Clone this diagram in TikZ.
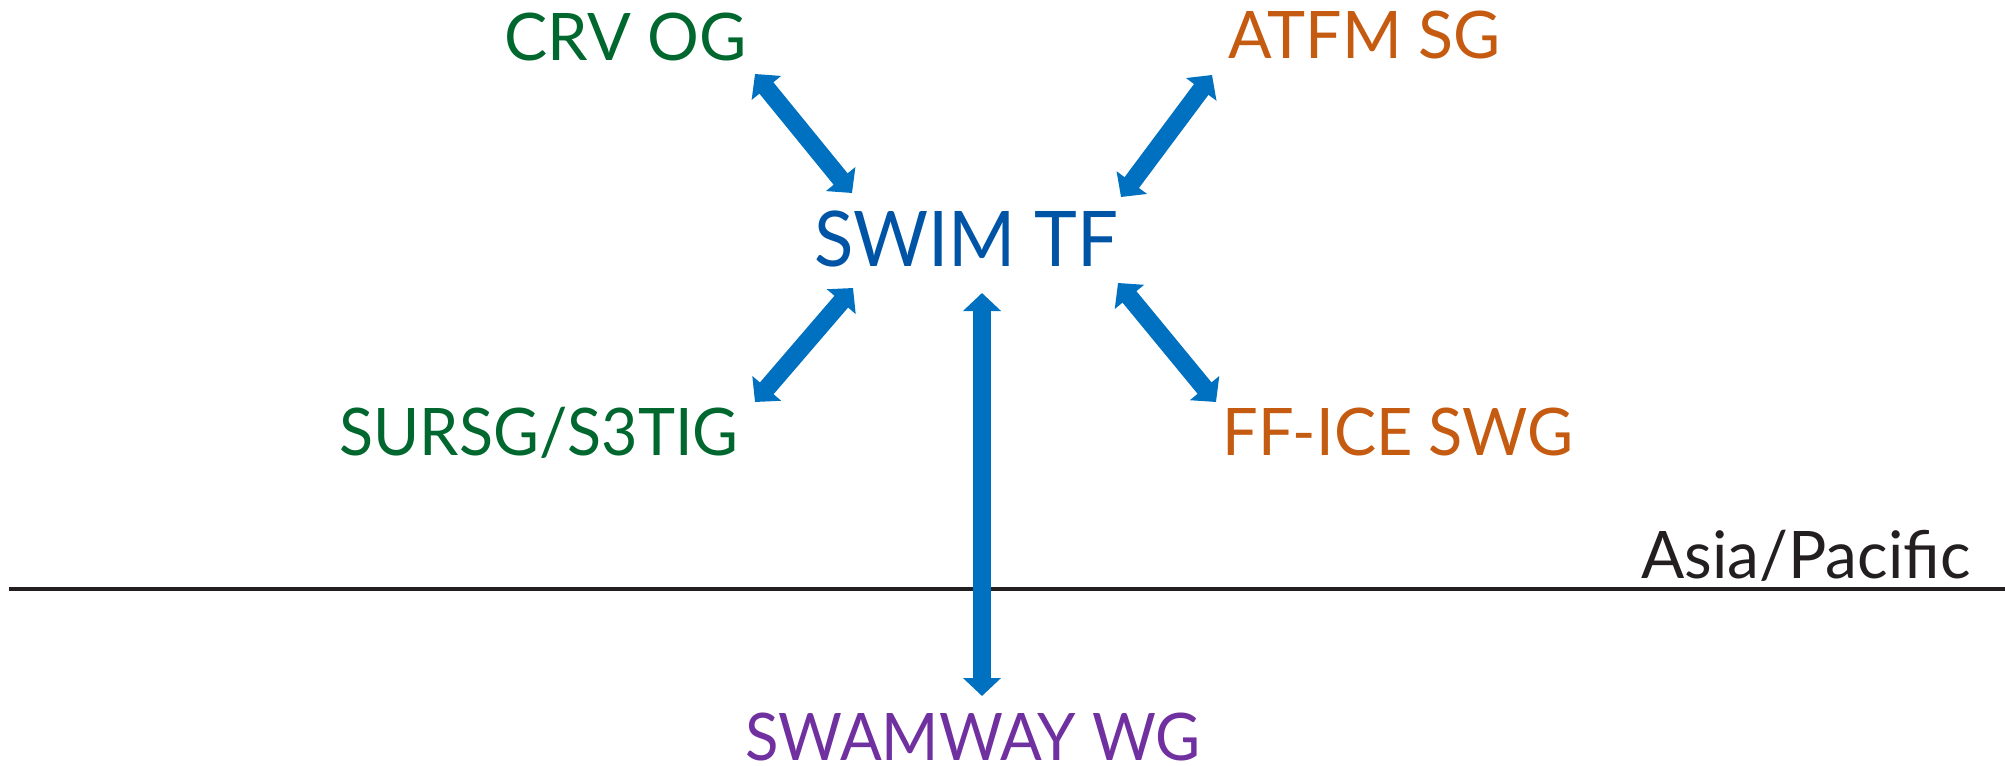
\documentclass[tikz,border=0pt]{standalone}
\usepackage{fontspec}
\usepackage{graphicx}
\setmainfont{Lato}
\usetikzlibrary{arrows.meta}
\definecolor{grn}{HTML}{00672F}
\definecolor{orn}{HTML}{C55A11}
\definecolor{swimblue}{HTML}{0054A6}
\definecolor{arrblue}{HTML}{0070C0}
\definecolor{purp}{HTML}{7030A0}
\definecolor{dk}{HTML}{231F20}
% fit a text to a given width (in px of the reference, 1px = 0.5pt), keeping its height
\newcommand{\fitw}[2]{\resizebox{#1\dimexpr 0.5pt\relax}{\height}{#2}}
\begin{document}
\begin{tikzpicture}[x=0.5pt,y=-0.5pt,
  lbl/.style={anchor=base west, inner sep=0pt, font=\fontsize{32.8}{36}\selectfont},
  bigtip/.tip={Triangle[length=9pt,width=18.5pt]},
  biarrow/.style={draw=arrblue, line width=9pt, bigtip-bigtip}]
\path[use as bounding box] (0,0) rectangle (2005,765);
\node[lbl, text=grn] (crv) at (504,61) {\fitw{242}{CRV OG}};
\node[lbl, text=orn] (atfm) at (1228,59) {\fitw{272}{ATFM SG}};
\node[lbl, text=swimblue, font=\fontsize{38.4}{42}\selectfont] (swim) at (814,266) {\fitw{304}{SWIM TF}};
\node[lbl, text=grn] (sursg) at (339,455) {\fitw{399}{SURSG/S3TIG}};
\node[lbl, text=orn] (ffice) at (1222,455) {\fitw{351}{FF-ICE SWG}};
\node[lbl, text=dk] (asia) at (1641,578) {\fitw{329}{Asia/Pacific}};
\node[lbl, text=purp] (swam) at (745,760) {\fitw{455}{SWAMWAY WG}};
\coordinate (crvA) at (755,74);
\coordinate (crvB) at (852,193);
\coordinate (atfmA) at (1212,75);
\coordinate (atfmB) at (1121,197);
\coordinate (surA) at (755,402);
\coordinate (surB) at (853,288);
\coordinate (ffA) at (1216,402);
\coordinate (ffB) at (1118,283);
\coordinate (swA) at (982,293);
\coordinate (swB) at (982,696);
\coordinate (lineL) at (9,589);
\coordinate (lineR) at (2005,589);
\draw[dk, line width=2pt] (lineL) -- (lineR);
\draw[biarrow] (crvA) -- (crvB);
\draw[biarrow] (atfmA) -- (atfmB);
\draw[biarrow] (surA) -- (surB);
\draw[biarrow] (ffA) -- (ffB);
\draw[biarrow] (swA) -- (swB);
\end{tikzpicture}
\end{document}
